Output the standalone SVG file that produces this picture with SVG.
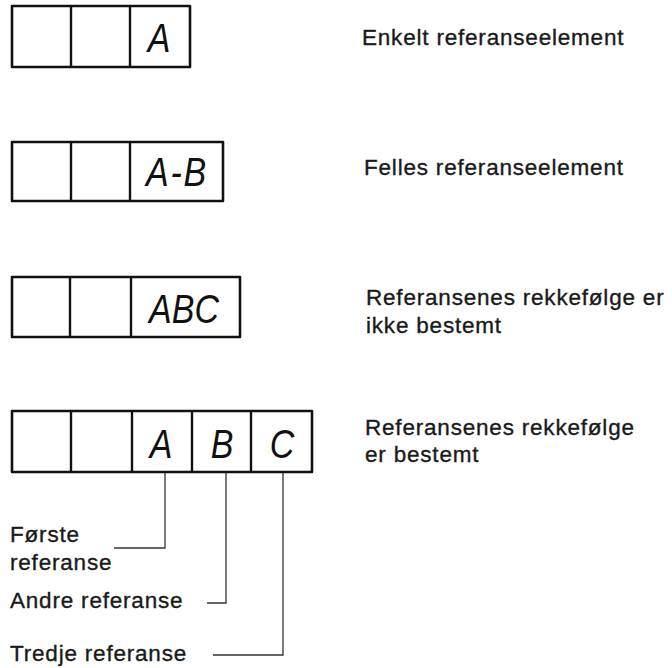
<svg xmlns="http://www.w3.org/2000/svg" width="672" height="668" viewBox="0 0 672 668">
<style>
.frame{fill:none;stroke:#111;stroke-width:2.6;stroke-linejoin:round}
.div{stroke:#111;stroke-width:2.4}
.lead{fill:none;stroke:#333;stroke-width:1.3}
.sym{font-family:"Liberation Sans",Arial,sans-serif;font-style:italic;font-size:40px;fill:#111;text-anchor:middle}
.lbl{font-family:"Liberation Sans",Arial,sans-serif;font-size:22.5px;fill:#1a1a1a;stroke:#1a1a1a;stroke-width:0.35;letter-spacing:0.8px}
</style>
<rect width="672" height="668" fill="#fff"/>
<g id="frame1">
<rect class="frame" x="12" y="6" width="178" height="61"/>
<line class="div" x1="71" y1="6" x2="71" y2="67"/>
<line class="div" x1="130" y1="6" x2="130" y2="67"/>
<text class="sym" transform="translate(159,52) scale(0.85,1)">A</text>
</g>
<g id="label1"><text class="lbl" x="362" y="45">Enkelt referanseelement</text></g>
<g id="frame2">
<rect class="frame" x="12" y="142" width="211" height="59"/>
<line class="div" x1="71" y1="142" x2="71" y2="201"/>
<line class="div" x1="130" y1="142" x2="130" y2="201"/>
<text class="sym" transform="translate(177,186) scale(0.85,1)" letter-spacing="2">A-B</text>
</g>
<g id="label2"><text class="lbl" x="364" y="175">Felles referanseelement</text></g>
<g id="frame3">
<rect class="frame" x="12" y="277" width="228" height="60"/>
<line class="div" x1="70" y1="277" x2="70" y2="337"/>
<line class="div" x1="131" y1="277" x2="131" y2="337"/>
<text class="sym" transform="translate(184,323) scale(0.85,1)">ABC</text>
</g>
<g id="label3"><text class="lbl" x="366" y="305">Referansenes rekkefølge er</text><text class="lbl" x="366" y="333">ikke bestemt</text></g>
<g id="frame4">
<rect class="frame" x="12" y="411" width="300" height="61"/>
<line class="div" x1="71" y1="411" x2="71" y2="472"/>
<line class="div" x1="132" y1="411" x2="132" y2="472"/>
<line class="div" x1="192" y1="411" x2="192" y2="472"/>
<line class="div" x1="251" y1="411" x2="251" y2="472"/>
<text class="sym" transform="translate(161,458) scale(0.85,1)">A</text>
<text class="sym" transform="translate(222,458) scale(0.85,1)">B</text>
<text class="sym" transform="translate(282,458) scale(0.85,1)">C</text>
</g>
<g id="label4"><text class="lbl" x="365" y="435">Referansenes rekkefølge</text><text class="lbl" x="365" y="462">er bestemt</text></g>
<g id="ref1"><text class="lbl" x="10" y="542">Første</text><text class="lbl" x="10" y="570">referanse</text></g>
<g id="ref2"><text class="lbl" x="10" y="608">Andre referanse</text></g>
<g id="ref3"><text class="lbl" x="10" y="661">Tredje referanse</text></g>
<g id="connectors">
<polyline class="lead" points="165,473 165,548 114,548"/>
<polyline class="lead" points="226,473 226,603 207,603"/>
<polyline class="lead" points="283,473 283,655 213,655"/>
</g>
</svg>
